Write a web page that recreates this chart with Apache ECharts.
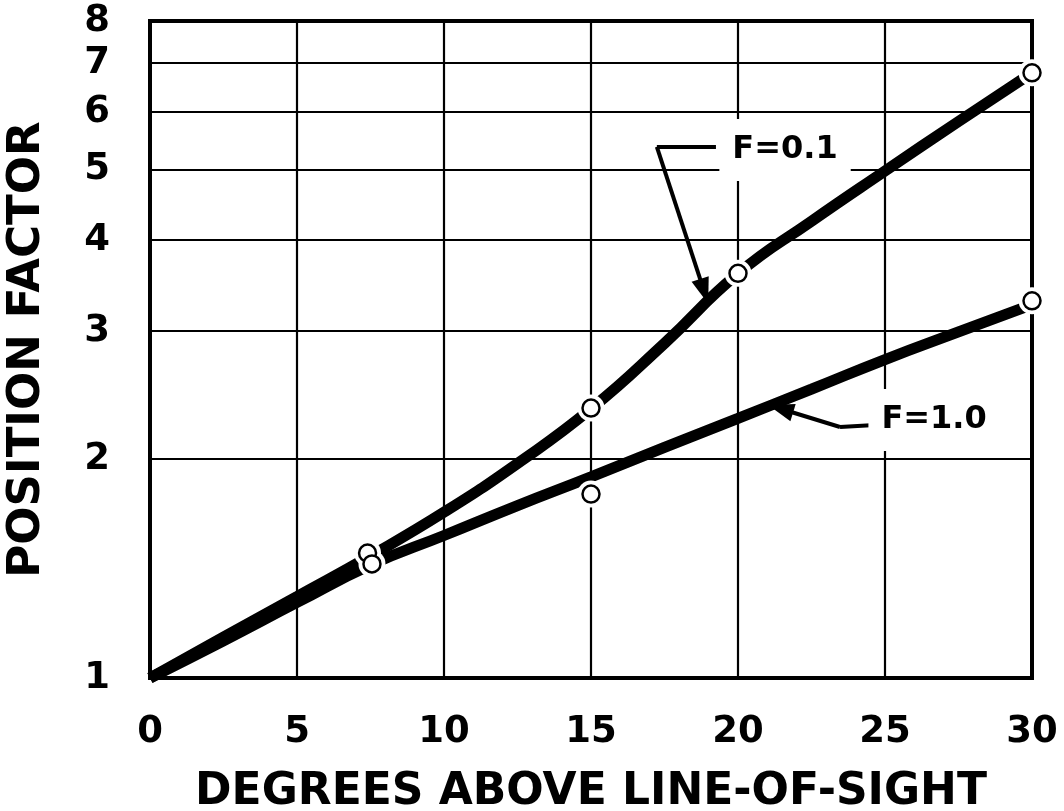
<!DOCTYPE html>
<html><head><meta charset="utf-8">
<script src="https://cdn.jsdelivr.net/npm/echarts@6/dist/echarts.min.js"></script>
<style>html,body{margin:0;padding:0;background:#fff}#c{width:1064px;height:811px}</style>
</head><body><div id="c"></div>
<script>
// ---- data ----
const xTicks = [0, 5, 10, 15, 20, 25, 30];
const yTicks = [1, 2, 3, 4, 5, 6, 7, 8];
const curveX   = [0, 2.5, 5, 7.5, 10, 12.5, 15, 17.5, 20, 22.5, 25, 27.5, 30];
const curveF01 = [1, 1.138, 1.294, 1.472, 1.69, 1.972, 2.344, 2.884, 3.597, 4.246, 4.977, 5.82, 6.79];
const curveF10 = [1, 1.125, 1.27, 1.43, 1.57, 1.726, 1.89, 2.075, 2.275, 2.495, 2.74, 2.99, 3.26];
const ptsF01X = [7.4, 15, 20, 30];
const ptsF01Y = [1.485, 2.35, 3.60, 6.79];
const ptsF10X = [7.55, 15, 30];
const ptsF10Y = [1.435, 1.79, 3.30];
const labelF01 = 'F=0.1';
const labelF10 = 'F=1.0';

const zip = (xs, ys) => xs.map((x, i) => [x, ys[i]]);
const FONT = 'DejaVu Sans';
const BLACK = '#000';

const chart = echarts.init(document.getElementById('c'), null, {renderer: 'canvas'});

const annLabel = (text) => ({
  show: true, position: 'inside', formatter: text,
  fontFamily: FONT, fontWeight: 'bold', fontSize: 32, color: BLACK,
  backgroundColor: '#fff', padding: [15, 13]
});

const option = {
  animation: false,
  backgroundColor: '#fff',
  grid: {left: 150, right: 32, top: 21, bottom: 133, containLabel: false, outerBoundsMode: 'none',
         show: true, borderColor: BLACK, borderWidth: 4},
  xAxis: {
    type: 'value', min: 0, max: 30, interval: 5,
    name: 'DEGREES ABOVE LINE-OF-SIGHT', nameLocation: 'middle', nameGap: 93,
    nameTextStyle: {fontFamily: FONT, fontWeight: 'bold', fontSize: 44, color: BLACK},
    axisLine: {show: true, lineStyle: {color: BLACK, width: 4}},
    axisTick: {show: false, customValues: xTicks},
    axisLabel: {customValues: xTicks, margin: 36, fontFamily: FONT, fontWeight: 'bold', fontSize: 37, color: BLACK},
    splitLine: {show: true, lineStyle: {color: BLACK, width: 2.2}}
  },
  yAxis: {
    type: 'log', logBase: 10, min: 1, max: 8,
    name: 'POSITION FACTOR', nameLocation: 'middle', nameGap: 100,
    nameTextStyle: {fontFamily: FONT, fontWeight: 'bold', fontSize: 45, color: BLACK},
    axisLine: {show: true, lineStyle: {color: BLACK, width: 4}},
    axisTick: {show: false, customValues: yTicks},
    axisLabel: {customValues: yTicks, align: 'center', margin: 53, fontFamily: FONT, fontWeight: 'bold', fontSize: 37, color: BLACK},
    splitLine: {show: true, lineStyle: {color: BLACK, width: 2.2}}
  },
  series: [
    {
      name: labelF01, type: 'line', z: 2, smooth: 0.5, showSymbol: false, symbol: 'none',
      data: zip(curveX, curveF01),
      lineStyle: {color: BLACK, width: 11, cap: 'butt'},
      markLine: {
        silent: true, animation: false, symbolSize: [18, 26],
        lineStyle: {color: BLACK, width: 4, type: 'solid'},
        label: {show: false},
        data: [
          [{coord: [19.25, 5.37], symbol: 'none'}, {coord: [17.24, 5.37], symbol: 'none'}],
          [{coord: [17.24, 5.37], symbol: 'none'}, {coord: [18.85, 3.40], symbol: 'triangle', symbolSize: [18, 26]}]
        ]
      },
      markPoint: {
        silent: true, animation: false,
        symbol: 'rect', symbolSize: 1, itemStyle: {color: 'rgba(0,0,0,0)'},
        label: annLabel(labelF01),
        data: [{coord: [21.6, 5.32]}]
      }
    },
    {
      name: labelF10, type: 'line', z: 2, smooth: 0.5, showSymbol: false, symbol: 'none',
      data: zip(curveX, curveF10),
      lineStyle: {color: BLACK, width: 11, cap: 'butt'},
      markLine: {
        silent: true, animation: false, symbolSize: [18, 26],
        lineStyle: {color: BLACK, width: 4, type: 'solid'},
        label: {show: false},
        data: [
          [{coord: [24.66, 2.227], symbol: 'none'}, {coord: [23.47, 2.213], symbol: 'none'}],
          [{coord: [23.47, 2.213], symbol: 'none'}, {coord: [21.45, 2.345], symbol: 'triangle', symbolSize: [18, 26]}]
        ]
      },
      markPoint: {
        silent: true, animation: false,
        symbol: 'rect', symbolSize: 1, itemStyle: {color: 'rgba(0,0,0,0)'},
        label: annLabel(labelF10),
        data: [{coord: [26.67, 2.263]}]
      }
    },
    {
      name: 'halo', type: 'scatter', z: 5, silent: true, symbol: 'circle', symbolSize: 27,
      itemStyle: {color: '#fff', opacity: 1},
      data: zip(ptsF01X, ptsF01Y).concat(zip(ptsF10X, ptsF10Y))
    },
    {
      name: labelF01 + ' data', type: 'scatter', z: 6, symbol: 'circle', symbolSize: 17,
      itemStyle: {color: '#fff', borderColor: BLACK, borderWidth: 2.5, opacity: 1},
      data: zip(ptsF01X, ptsF01Y)
    },
    {
      name: labelF10 + ' data', type: 'scatter', z: 6, symbol: 'circle', symbolSize: 17,
      itemStyle: {color: '#fff', borderColor: BLACK, borderWidth: 2.5, opacity: 1},
      data: zip(ptsF10X, ptsF10Y)
    }
  ]
};
chart.setOption(option);
</script>
</body></html>
